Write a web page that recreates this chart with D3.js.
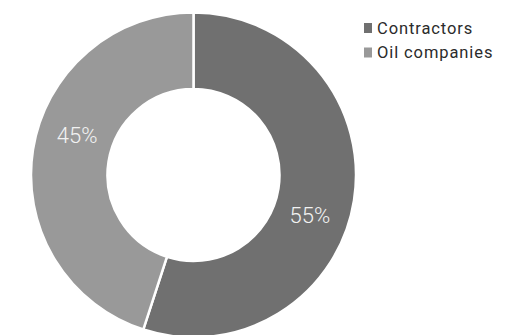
<!DOCTYPE html>
<html>
<head>
<meta charset="utf-8">
<script src="https://cdn.jsdelivr.net/npm/d3@7"></script>
<style>
  html, body { margin: 0; padding: 0; background: #fff; }
  svg { display: block; }
</style>
</head>
<body>
<div id="chart"></div>
<script>
// Share of spending, contractors vs oil companies
const categories = ["Contractors", "Oil companies"];
const shares = [55, 45];
const colors = ["#707070", "#999999"];

const width = 518, height = 335;
const cx = 193.5, cy = 175;
const outerR = 162.5, innerR = 86;

const svg = d3.select("#chart").append("svg")
  .attr("width", width)
  .attr("height", height);

const pie = d3.pie().sort(null).value(d => d.value);
const data = pie(categories.map((c, i) => ({ name: c, value: shares[i] })));

const arc = d3.arc().innerRadius(innerR).outerRadius(outerR);

const g = svg.append("g").attr("transform", `translate(${cx},${cy})`);

g.selectAll("path.slice")
  .data(data)
  .join("path")
  .attr("class", "slice")
  .attr("d", arc)
  .attr("fill", (d, i) => colors[i])
  .attr("stroke", "#fff")
  .attr("stroke-width", 2.5);

// labels sit a bit clockwise of the slice middle
const labelArc = d3.arc().innerRadius(123).outerRadius(123);
const shift = 10 * Math.PI / 180;

g.selectAll("text.pct")
  .data(data)
  .join("text")
  .attr("class", "pct")
  .attr("transform", d => {
    const a = { startAngle: d.startAngle + shift, endAngle: d.endAngle + shift };
    const [x, y] = labelArc.centroid(a);
    return `translate(${x},${y})`;
  })
  .attr("text-anchor", "middle")
  .attr("dy", "0.36em")
  .attr("font-family", "Roboto, sans-serif")
  .attr("font-weight", 300)
  .attr("font-size", 22)
  .attr("fill", "#f2f2f2")
  .text(d => d.data.value + "%");

// Legend
const lg = svg.append("g").attr("transform", "translate(364, 23)");
const item = lg.selectAll("g")
  .data(categories)
  .join("g")
  .attr("transform", (d, i) => `translate(0, ${i * 24.5})`);

item.append("rect")
  .attr("width", 8).attr("height", 10)
  .attr("fill", (d, i) => colors[i]);

item.append("text")
  .attr("x", 13).attr("y", 10.5)
  .attr("font-family", "Roboto, sans-serif")
  .attr("font-size", 16.5)
  .attr("letter-spacing", 0.9)
  .attr("fill", "#2b2b2b")
  .text(d => d);
</script>
</body>
</html>
